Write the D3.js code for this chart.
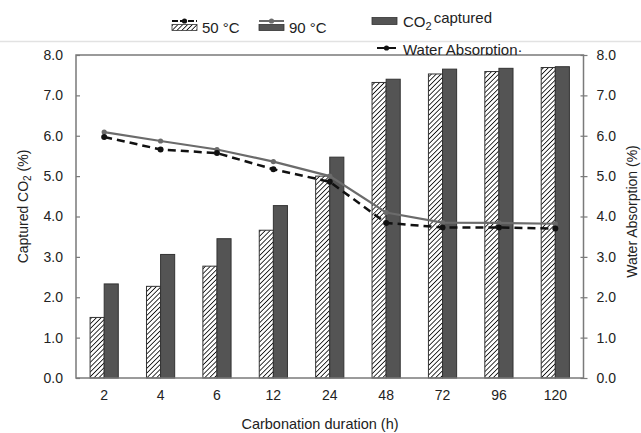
<!DOCTYPE html>
<html lang="en">
<head>
<meta charset="UTF-8">
<title>Captured CO2 and water absorption</title>
<script src="https://d3js.org/d3.v7.min.js"></script>
<style>
  body { margin: 0; background: #fff; }
  svg { font-family: 'Liberation Sans', Arial, sans-serif; display: block; }
  .tick text { font-size: 14px; fill: #222; }
</style>
</head>
<body>
<script>
// categories (carbonation duration, h)
const durations = ["2", "4", "6", "12", "24", "48", "72", "96", "120"];
// captured CO2 (%)
const co2At50 = [1.5, 2.27, 2.77, 3.66, 5.0, 7.32, 7.53, 7.59, 7.69];
const co2At90 = [2.33, 3.06, 3.45, 4.27, 5.47, 7.40, 7.65, 7.67, 7.71];
// water absorption (%)
const waterAt50 = [5.97, 5.66, 5.57, 5.17, 4.86, 3.84, 3.73, 3.73, 3.70];
const waterAt90 = [6.09, 5.87, 5.66, 5.36, 5.0, 4.1, 3.85, 3.84, 3.82];
const yTicks = [0, 1, 2, 3, 4, 5, 6, 7, 8];

const W = 641, H = 433;
const pL = 76, pR = 583.5, pT = 55, pB = 378;

const svg = d3.select("body").append("svg")
    .attr("width", W).attr("height", H);

const defs = svg.append("defs");
const hatch = defs.append("pattern")
    .attr("id", "hatch")
    .attr("patternUnits", "userSpaceOnUse")
    .attr("width", 3.4).attr("height", 3.4)
    .attr("patternTransform", "rotate(45)");
hatch.append("rect").attr("width", 3.4).attr("height", 3.4).attr("fill", "#fff");
hatch.append("line").attr("x1", 0).attr("y1", 0).attr("x2", 0).attr("y2", 3.4)
    .attr("stroke", "#111").attr("stroke-width", 1.7);

defs.append("clipPath").attr("id", "legclip")
    .append("rect").attr("x", 0).attr("y", 0).attr("width", W).attr("height", pT);

const x = d3.scaleBand()
    .domain(durations)
    .range([pL, pR])
    .paddingInner(0.5)
    .paddingOuter(0.25);

const xSub = d3.scaleBand()
    .domain(["50", "90"])
    .range([0, x.bandwidth()]);

const y = d3.scaleLinear().domain([0, 8]).range([pB, pT]);
const y2 = d3.scaleLinear().domain([0, 8]).range([pB, pT]);

// separator line under legend
svg.append("line")
    .attr("x1", 0).attr("x2", W).attr("y1", 41.5).attr("y2", 41.5)
    .attr("stroke", "#e2e2e2").attr("stroke-width", 1.5);

// bars
const barSeries = [
  { key: "50", values: co2At50, fill: "url(#hatch)" },
  { key: "90", values: co2At90, fill: "#545454" }
];
barSeries.forEach(s => {
  svg.append("g").selectAll("rect")
    .data(durations)
    .join("rect")
    .attr("x", (d) => x(d) + xSub(s.key))
    .attr("width", xSub.bandwidth())
    .attr("y", (d, i) => y(s.values[i]))
    .attr("height", (d, i) => pB - y(s.values[i]))
    .attr("fill", s.fill)
    .attr("stroke", "#333")
    .attr("stroke-width", 1);
});

// frame
svg.append("rect")
    .attr("x", pL).attr("y", pT)
    .attr("width", pR - pL).attr("height", pB - pT)
    .attr("fill", "none").attr("stroke", "#7a7a7a").attr("stroke-width", 1.5);

// water absorption lines
const cx = d => x(d) + x.bandwidth() / 2;
const lineSeries = [
  { values: waterAt90, color: "#6b6b6b", dash: null, width: 2.2, r: 2.6 },
  { values: waterAt50, color: "#111", dash: "8,5", width: 2.5, r: 3 }
];
lineSeries.forEach(s => {
  const line = d3.line()
    .x((v, i) => cx(durations[i]))
    .y(v => y2(v));
  svg.append("path")
    .datum(s.values)
    .attr("d", line)
    .attr("fill", "none")
    .attr("stroke", s.color)
    .attr("stroke-width", s.width)
    .attr("stroke-dasharray", s.dash);
  svg.append("g").selectAll("circle")
    .data(s.values)
    .join("circle")
    .attr("cx", (v, i) => cx(durations[i]))
    .attr("cy", v => y2(v))
    .attr("r", s.r)
    .attr("fill", s.color);
});

// axes
const yAxisL = svg.append("g")
    .attr("transform", `translate(${pL},0)`)
    .call(d3.axisLeft(y).tickValues(yTicks).tickFormat(d3.format(".1f")).tickSizeInner(-4).tickSizeOuter(0).tickPadding(13));
yAxisL.select(".domain").remove();
yAxisL.selectAll(".tick line").attr("stroke", "#7a7a7a").attr("stroke-width", 1.2);

const yAxisR = svg.append("g")
    .attr("transform", `translate(${pR},0)`)
    .call(d3.axisRight(y2).tickValues(yTicks).tickFormat(d3.format(".1f")).tickSizeInner(4).tickSizeOuter(0).tickPadding(9));
yAxisR.select(".domain").remove();
yAxisR.selectAll(".tick line").attr("x1", -3).attr("stroke", "#7a7a7a").attr("stroke-width", 1.2);

const xAxis = svg.append("g")
    .attr("transform", `translate(0,${pB})`)
    .call(d3.axisBottom(x).tickSize(0).tickPadding(12));
xAxis.select(".domain").remove();

// axis titles
svg.append("text")
    .attr("transform", `translate(28,${(pT + pB) / 2 - 10}) rotate(-90)`)
    .attr("text-anchor", "middle")
    .attr("font-size", 14).attr("fill", "#222")
    .call(t => {
      t.append("tspan").text("Captured CO");
      t.append("tspan").text("2").attr("font-size", 10).attr("dy", 3);
      t.append("tspan").text(" (%)").attr("dy", -3);
    });

svg.append("text")
    .attr("transform", `translate(637,${(pT + pB) / 2 - 5}) rotate(-90)`)
    .attr("text-anchor", "middle")
    .attr("font-size", 14).attr("fill", "#222")
    .text("Water Absorption  (%)");

svg.append("text")
    .attr("x", 320).attr("y", 429)
    .attr("text-anchor", "middle")
    .attr("font-size", 14.5).attr("fill", "#222")
    .text("Carbonation duration  (h)");

// legend
const leg = svg.append("g");
const legItems = [
  { x: 172, label: "50 °C", fill: "url(#hatch)", color: "#111", dash: "6,2" },
  { x: 259, label: "90 °C", fill: "#545454", color: "#6b6b6b", dash: null }
];
legItems.forEach(it => {
  leg.append("rect")
    .attr("x", it.x).attr("y", 24.5).attr("width", 25).attr("height", 6)
    .attr("fill", it.fill).attr("stroke", "#333").attr("stroke-width", 0.8);
  leg.append("line")
    .attr("x1", it.x).attr("x2", it.x + 25).attr("y1", 21).attr("y2", 21)
    .attr("stroke", it.color).attr("stroke-width", 2).attr("stroke-dasharray", it.dash);
  leg.append("circle")
    .attr("cx", it.x + 12.5).attr("cy", 21).attr("r", 2.6).attr("fill", it.color);
  leg.append("text")
    .attr("x", it.x + 30).attr("y", 33)
    .attr("font-size", 15).attr("fill", "#222")
    .text(it.label);
});

leg.append("rect")
    .attr("x", 372).attr("y", 17.5).attr("width", 25).attr("height", 7)
    .attr("fill", "#545454").attr("stroke", "#333").attr("stroke-width", 0.8);
leg.append("text")
    .attr("x", 403).attr("y", 27)
    .attr("font-size", 15).attr("fill", "#222")
    .call(t => {
      t.append("tspan").text("CO");
      t.append("tspan").text("2").attr("font-size", 11).attr("dy", 3);
      t.append("tspan").text("captured").attr("dy", -7).attr("dx", 2);
    });

const legW = leg.append("g").attr("clip-path", "url(#legclip)");
legW.append("line")
    .attr("x1", 377).attr("x2", 396).attr("y1", 48).attr("y2", 48)
    .attr("stroke", "#111").attr("stroke-width", 2);
legW.append("circle")
    .attr("cx", 386.5).attr("cy", 48).attr("r", 2.6).attr("fill", "#111");
legW.append("text")
    .attr("x", 403).attr("y", 55)
    .attr("font-size", 15).attr("fill", "#222")
    .text("Water Absorption·");
</script>
</body>
</html>
